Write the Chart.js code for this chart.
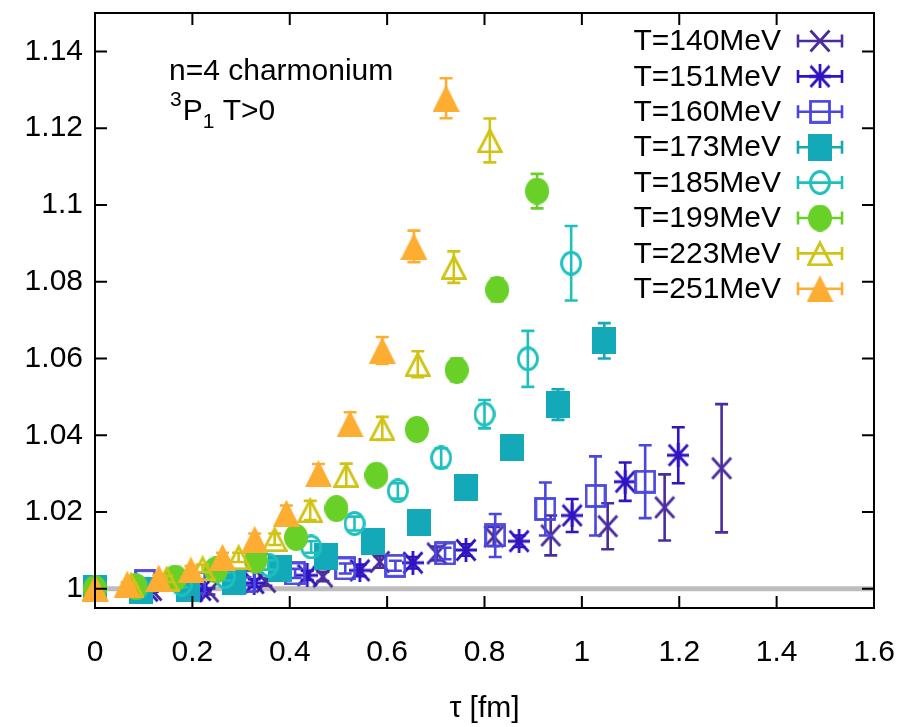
<!DOCTYPE html>
<html>
<head>
<meta charset="utf-8">
<script src="https://cdn.jsdelivr.net/npm/chart.js@4.4.0/dist/chart.umd.min.js"></script>
<style>
  html, body { margin: 0; padding: 0; background: #fff; }
</style>
</head>
<body>
<canvas id="chart" width="910" height="727"></canvas>
<script>
const FONT = "'Liberation Sans', Arial, sans-serif";
const FS = 30;

const labels = ['T=140MeV', 'T=151MeV', 'T=160MeV', 'T=173MeV', 'T=185MeV', 'T=199MeV', 'T=223MeV', 'T=251MeV'];
const colors = ['#4b2c9d', '#2f14c2', '#4a46e0', '#14a9b8', '#1ec0be', '#69d028', '#d0c316', '#fdad31'];
const markers = ['cross', 'star', 'box', 'boxF', 'circ', 'circF', 'tri', 'triF'];

// tau [fm] for each temperature
const tau140 = [0, 0.117, 0.234, 0.351, 0.468, 0.585, 0.702, 0.819, 0.936, 1.053, 1.170, 1.287];
const tau151 = [0, 0.109, 0.218, 0.327, 0.436, 0.544, 0.653, 0.762, 0.871, 0.980, 1.089, 1.198];
const tau160 = [0, 0.103, 0.206, 0.308, 0.411, 0.514, 0.617, 0.719, 0.822, 0.925, 1.028, 1.130];
const tau173 = [0, 0.095, 0.190, 0.285, 0.380, 0.475, 0.571, 0.666, 0.761, 0.856, 0.951, 1.046];
const tau185 = [0, 0.089, 0.178, 0.267, 0.356, 0.444, 0.533, 0.622, 0.711, 0.800, 0.889, 0.978];
const tau199 = [0, 0.083, 0.165, 0.248, 0.330, 0.413, 0.496, 0.578, 0.661, 0.743, 0.826, 0.908];
const tau223 = [0, 0.074, 0.147, 0.221, 0.295, 0.369, 0.442, 0.516, 0.590, 0.663, 0.737, 0.811];
const tau251 = [0, 0.066, 0.131, 0.197, 0.262, 0.328, 0.393, 0.459, 0.524, 0.590, 0.655, 0.721];

// correlator ratio
const val140 = [1.000, 0.9997, 0.9993, 1.0018, 1.0032, 1.0070, 1.0092, 1.0136, 1.0139, 1.0163, 1.0212, 1.0314];
const val151 = [1.000, 0.9995, 0.9997, 1.0015, 1.0035, 1.0048, 1.0068, 1.0101, 1.0124, 1.0191, 1.0279, 1.0348];
const val160 = [1.000, 1.0020, 1.0015, 1.0020, 1.0040, 1.0053, 1.0060, 1.0092, 1.0139, 1.0208, 1.0242, 1.0279];
const val173 = [1.000, 0.9995, 1.0000, 1.0020, 1.0054, 1.0083, 1.0122, 1.0173, 1.0264, 1.0367, 1.0480, 1.0646];
const val185 = [1.000, 1.0003, 1.0012, 1.0032, 1.0062, 1.0109, 1.0170, 1.0255, 1.0341, 1.0455, 1.0599, 1.0848];
const val199 = [1.000, 1.0006, 1.0028, 1.0049, 1.0075, 1.0134, 1.0209, 1.0296, 1.0415, 1.0570, 1.0779, 1.1036];
const val223 = [1.000, 1.0010, 1.0026, 1.0053, 1.0082, 1.0129, 1.0204, 1.0296, 1.0418, 1.0585, 1.0838, 1.1168];
const val251 = [1.000, 1.0012, 1.0028, 1.0049, 1.0082, 1.0129, 1.0197, 1.0300, 1.0430, 1.0621, 1.0892, 1.1278];

// symmetric errors
const err140 = [0, 0.0005, 0.0008, 0.001, 0.0012, 0.0015, 0.0018, 0.0025, 0.0052, 0.0060, 0.0086, 0.0167];
const err151 = [0, 0.0005, 0.0008, 0.001, 0.0012, 0.0015, 0.0015, 0.0015, 0.0015, 0.0043, 0.0050, 0.0073];
const err160 = [0, 0.0005, 0.0008, 0.001, 0.0012, 0.0013, 0.0013, 0.0015, 0.0056, 0.0069, 0.0103, 0.0095];
const err173 = [0, 0.0005, 0.0005, 0.0008, 0.001, 0.001, 0.0012, 0.002, 0.0025, 0.003, 0.0040, 0.0046];
const err185 = [0, 0.0005, 0.0008, 0.001, 0.0012, 0.0015, 0.0018, 0.002, 0.0025, 0.0037, 0.0073, 0.0097];
const err199 = [0, 0.0005, 0.0008, 0.001, 0.0012, 0.0015, 0.0018, 0.002, 0.0025, 0.003, 0.003, 0.0045];
const err223 = [0, 0.0005, 0.0008, 0.001, 0.0012, 0.0015, 0.0025, 0.003, 0.003, 0.0034, 0.0041, 0.0057];
const err251 = [0, 0.0005, 0.0008, 0.001, 0.0012, 0.0015, 0.002, 0.0025, 0.003, 0.0035, 0.0041, 0.0052];

const xTicks = [0, 0.2, 0.4, 0.6, 0.8, 1, 1.2, 1.4, 1.6];
const yTicks = [1, 1.02, 1.04, 1.06, 1.08, 1.1, 1.12, 1.14];

const taus = [tau140, tau151, tau160, tau173, tau185, tau199, tau223, tau251];
const vals = [val140, val151, val160, val173, val185, val199, val223, val251];
const errs = [err140, err151, err160, err173, err185, err199, err223, err251];

// point symbols as small canvases so chart.js can stamp them
function makeMarker(kind, color) {
  const sizes = { cross: [22, 24], star: [22, 24], box: [22, 24], boxF: [24, 27],
                  circ: [22, 25], circF: [24, 27], tri: [26, 26], triF: [27, 27] };
  const [w, h] = sizes[kind];
  const c = document.createElement('canvas');
  c.width = w; c.height = h;
  const g = c.getContext('2d');
  g.strokeStyle = color; g.fillStyle = color;
  g.lineWidth = 2.8;
  const p = 1.5;
  g.beginPath();
  if (kind === 'cross' || kind === 'star') {
    g.moveTo(p, p); g.lineTo(w - p, h - p);
    g.moveTo(w - p, p); g.lineTo(p, h - p);
    if (kind === 'star') {
      g.moveTo(w / 2, 0); g.lineTo(w / 2, h);
      g.moveTo(0, h / 2); g.lineTo(w, h / 2);
    }
    g.stroke();
  } else if (kind === 'box') {
    g.strokeRect(p, p, w - 2 * p, h - 2 * p);
  } else if (kind === 'boxF') {
    g.fillRect(0, 0, w, h);
  } else if (kind === 'circ') {
    g.ellipse(w / 2, h / 2, w / 2 - p, h / 2 - p, 0, 0, Math.PI * 2);
    g.stroke();
  } else if (kind === 'circF') {
    g.ellipse(w / 2, h / 2, w / 2, h / 2, 0, 0, Math.PI * 2);
    g.fill();
  } else if (kind === 'tri') {
    g.moveTo(w / 2, p + 1); g.lineTo(w - p, h - p); g.lineTo(p, h - p); g.closePath();
    g.stroke();
  } else if (kind === 'triF') {
    g.moveTo(w / 2, 0); g.lineTo(w, h); g.lineTo(0, h); g.closePath();
    g.fill();
  }
  return c;
}

const markerImgs = markers.map((m, i) => makeMarker(m, colors[i]));

const datasets = labels.map((label, i) => ({
  label: label,
  data: taus[i].map((t, j) => ({ x: t, y: vals[i][j] })),
  errors: errs[i],
  pointStyle: markerImgs[i],
  pointRadius: 12,
  pointHoverRadius: 12,
  borderColor: colors[i],
  backgroundColor: colors[i],
  clip: false,
  order: labels.length - i
}));

// reference line at 1
datasets.push({
  type: 'line',
  label: 'ref',
  data: [{ x: 0, y: 1 }, { x: 1.6, y: 1 }],
  borderColor: '#bdbdbd',
  borderWidth: 5,
  pointRadius: 0,
  order: 100
});

function drawBar(ctx, x, y0, y1, color) {
  const cap = 6.5;
  ctx.strokeStyle = color;
  ctx.lineWidth = 2.6;
  ctx.beginPath();
  ctx.moveTo(x, y0); ctx.lineTo(x, y1);
  ctx.moveTo(x - cap, y0); ctx.lineTo(x + cap, y0);
  ctx.moveTo(x - cap, y1); ctx.lineTo(x + cap, y1);
  ctx.stroke();
}

const errorBars = {
  id: 'errorBars',
  beforeDatasetDraw(chart, args) {
    const ds = chart.data.datasets[args.index];
    if (!ds.errors) return;
    const ctx = chart.ctx;
    const ys = chart.scales.y;
    ctx.save();
    args.meta.data.forEach((pt, j) => {
      const e = ds.errors[j];
      if (!e) return;
      const v = ds.data[j].y;
      drawBar(ctx, pt.x, ys.getPixelForValue(v + e), ys.getPixelForValue(v - e), ds.borderColor);
    });
    ctx.restore();
  }
};

const frame = {
  id: 'frame',
  afterDraw(chart) {
    const ctx = chart.ctx;
    const a = chart.chartArea;
    const xs = chart.scales.x, ys = chart.scales.y;
    const tl = 12;
    ctx.save();
    ctx.strokeStyle = '#000';
    ctx.lineWidth = 2;
    ctx.strokeRect(a.left, a.top, a.right - a.left, a.bottom - a.top);
    ctx.beginPath();
    xTicks.forEach(v => {
      const px = xs.getPixelForValue(v);
      ctx.moveTo(px, a.bottom); ctx.lineTo(px, a.bottom - tl);
      ctx.moveTo(px, a.top); ctx.lineTo(px, a.top + tl);
    });
    yTicks.forEach(v => {
      const py = ys.getPixelForValue(v);
      ctx.moveTo(a.left, py); ctx.lineTo(a.left + tl, py);
      ctx.moveTo(a.right, py); ctx.lineTo(a.right - tl, py);
    });
    ctx.stroke();

    // key, top right
    ctx.font = FS + 'px ' + FONT;
    ctx.fillStyle = '#000';
    ctx.textAlign = 'right';
    ctx.textBaseline = 'middle';
    labels.forEach((label, i) => {
      const y = 41 + i * 35.4;
      ctx.fillText(label, 781, y + 1);
      ctx.strokeStyle = colors[i];
      ctx.lineWidth = 2.6;
      ctx.beginPath();
      ctx.moveTo(798, y); ctx.lineTo(842, y);
      ctx.moveTo(798, y - 6.5); ctx.lineTo(798, y + 6.5);
      ctx.moveTo(842, y - 6.5); ctx.lineTo(842, y + 6.5);
      ctx.stroke();
      const img = markerImgs[i];
      ctx.drawImage(img, 820 - img.width / 2, y - img.height / 2);
    });

    // channel label
    ctx.textAlign = 'left';
    ctx.textBaseline = 'alphabetic';
    ctx.font = FS + 'px ' + FONT;
    ctx.fillText('n=4 charmonium', 169, 80);
    let x = 170;
    ctx.font = '21px ' + FONT;
    ctx.fillText('3', x, 106);
    x += ctx.measureText('3').width + 1;
    ctx.font = FS + 'px ' + FONT;
    ctx.fillText('P', x, 120);
    x += ctx.measureText('P').width;
    ctx.font = '21px ' + FONT;
    ctx.fillText('1', x, 128);
    x += ctx.measureText('1').width;
    ctx.font = FS + 'px ' + FONT;
    ctx.fillText(' T>0', x, 120);
    ctx.restore();
  }
};

function fmt(v) {
  return String(Math.round(v * 100) / 100);
}

new Chart(document.getElementById('chart'), {
  type: 'scatter',
  data: { datasets: datasets },
  options: {
    responsive: false,
    animation: false,
    events: [],
    layout: { padding: { top: 7, right: 36, left: 0, bottom: 0 } },
    plugins: { legend: { display: false }, tooltip: { enabled: false } },
    scales: {
      x: {
        type: 'linear',
        min: 0,
        max: 1.6,
        grid: { display: false, drawTicks: false },
        border: { display: false },
        afterBuildTicks: s => { s.ticks = xTicks.map(v => ({ value: v })); },
        afterFit: s => { s.height = 119; s.paddingLeft = 0; s.paddingRight = 0; },
        ticks: {
          color: '#000',
          font: { family: FONT, size: FS },
          padding: 27,
          maxRotation: 0,
          callback: v => fmt(v)
        },
        title: {
          display: true,
          text: 'τ [fm]',
          color: '#000',
          font: { family: FONT, size: FS },
          padding: { top: 0, bottom: 0 }
        }
      },
      y: {
        type: 'linear',
        min: 0.995,
        max: 1.15,
        grid: { display: false, drawTicks: false },
        border: { display: false },
        afterBuildTicks: s => { s.ticks = yTicks.map(v => ({ value: v })); },
        afterFit: s => { s.width = 95; s.paddingTop = 0; s.paddingBottom = 0; },
        ticks: {
          color: '#000',
          font: { family: FONT, size: FS },
          padding: 12,
          callback: v => fmt(v)
        }
      }
    }
  },
  plugins: [errorBars, frame]
});
</script>
</body>
</html>
